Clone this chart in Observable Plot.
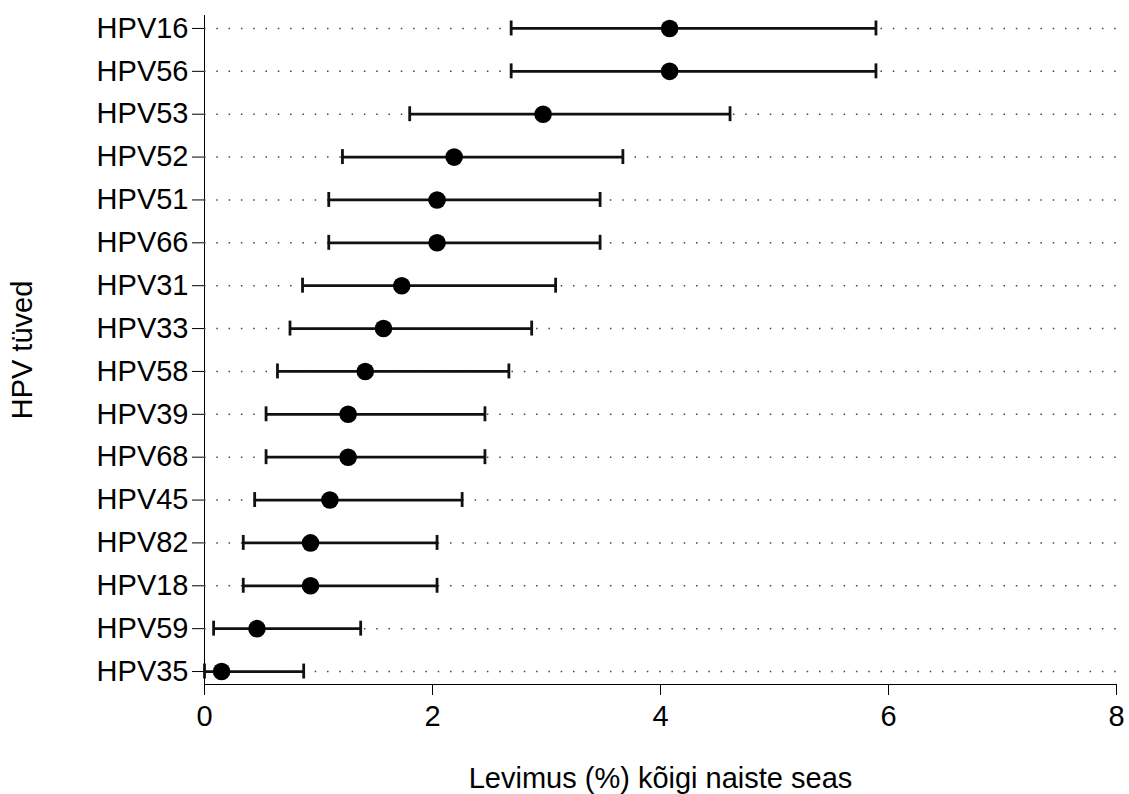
<!DOCTYPE html>
<html>
<head>
<meta charset="utf-8">
<script src="https://cdn.jsdelivr.net/npm/d3@7"></script>
<script src="https://cdn.jsdelivr.net/npm/@observablehq/plot@0.6"></script>
<style>
  body { margin: 0; background: #fff; }
</style>
</head>
<body>
<div id="chart"></div>
<script>
const categories = ["HPV16","HPV56","HPV53","HPV52","HPV51","HPV66","HPV31","HPV33","HPV58","HPV39","HPV68","HPV45","HPV82","HPV18","HPV59","HPV35"];
const estimate = [4.08,4.08,2.97,2.19,2.04,2.04,1.73,1.57,1.41,1.26,1.26,1.10,0.93,0.93,0.46,0.15];
const lower    = [2.69,2.69,1.80,1.21,1.09,1.09,0.86,0.75,0.64,0.54,0.54,0.44,0.34,0.34,0.08,0.00];
const upper    = [5.89,5.89,4.61,3.67,3.47,3.47,3.08,2.87,2.67,2.46,2.46,2.26,2.04,2.04,1.37,0.87];
const xTicks = [0, 2, 4, 6, 8];

const rows = categories.map((c, i) => ({type: c, est: estimate[i], lo: lower[i], hi: upper[i]}));

const chart = Plot.plot({
  width: 1129,
  height: 794,
  marginLeft: 204,
  marginRight: 13,
  marginTop: 15,
  marginBottom: 110,
  style: {fontFamily: "'Liberation Sans', Arial, sans-serif", fontSize: "29px", color: "#000", background: "#fff"},
  x: {domain: [0, 8], ticks: xTicks, tickFormat: d => String(d), line: true, tickSize: 11, tickPadding: 10,
      label: "Levimus (%) kõigi naiste seas", labelArrow: "none", labelAnchor: "center", labelOffset: 103},
  y: {type: "band", domain: categories, round: false, paddingInner: 0.395, paddingOuter: 0, line: true, tickSize: 12, tickPadding: 4,
      label: "HPV tüved", labelArrow: "none", labelAnchor: "center", labelOffset: 193},
  marks: [
    Plot.ruleY(rows, {y: "type", x1: 0, x2: 8, stroke: "#444", strokeWidth: 1.5, strokeDasharray: "1.5,10.8"}),
    Plot.ruleY(rows, {y: "type", x1: "lo", x2: "hi", stroke: "#111", strokeWidth: 2.8}),
    Plot.tickX(rows, {y: "type", x: "lo", stroke: "#111", strokeWidth: 2.8, insetTop: 5.5, insetBottom: 5.5}),
    Plot.tickX(rows, {y: "type", x: "hi", stroke: "#111", strokeWidth: 2.8, insetTop: 5.5, insetBottom: 5.5}),
    Plot.dot(rows, {y: "type", x: "est", r: 8.8, fill: "#000", stroke: "none"})
  ]
});
document.getElementById("chart").appendChild(chart);
</script>
</body>
</html>
